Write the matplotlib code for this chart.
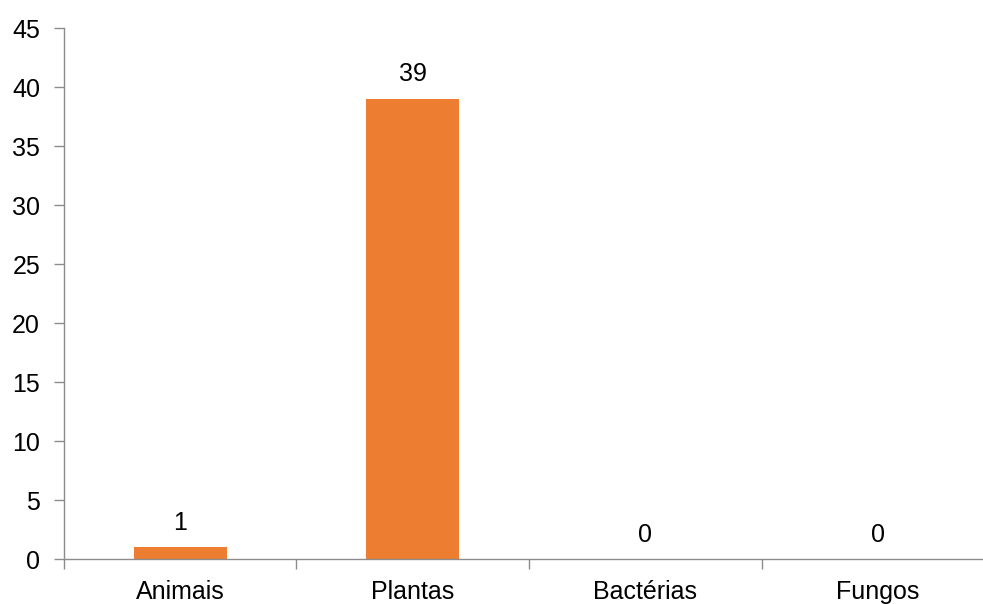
import matplotlib.pyplot as plt

# Valores do gráfico
categorias = ['Animais', 'Plantas', 'Bactérias', 'Fungos']
valores = [1, 39, 0, 0]

plt.rcParams['font.family'] = ['Liberation Sans', 'DejaVu Sans']

fig = plt.figure(figsize=(9.83, 6.04), dpi=100)
# axis runs past the right edge of the picture, like the original
ax = fig.add_axes([63.7 / 983, 44.7 / 604, 930.8 / 983, 531.3 / 604])

x = range(len(categorias))
bars = ax.bar(x, valores, width=0.4, color='#ED7D31', zorder=2)

for xi, v in zip(x, valores):
    ax.annotate(str(v), (xi, v), xytext=(0, 9), textcoords='offset points',
                ha='center', va='bottom', fontsize=18, color='black')

ax.set_xlim(-0.5, len(categorias) - 0.5)
ax.set_ylim(0, 45)
ax.set_yticks(range(0, 46, 5))
ax.set_xticks(list(x))
ax.set_xticklabels(categorias)
ax.set_xticks([i - 0.5 for i in range(len(categorias) + 1)], minor=True)

for side in ['top', 'right']:
    ax.spines[side].set_visible(False)
for side in ['left', 'bottom']:
    ax.spines[side].set_color('#8c8c8c')
    ax.spines[side].set_linewidth(1.0)

ax.tick_params(axis='y', length=7, width=1, color='#8c8c8c', labelsize=18, pad=10)
ax.tick_params(axis='x', which='major', length=0, labelsize=18, pad=15)
ax.tick_params(axis='x', which='minor', length=7, width=1, color='#8c8c8c')

fig.savefig('out.png', dpi=100)
